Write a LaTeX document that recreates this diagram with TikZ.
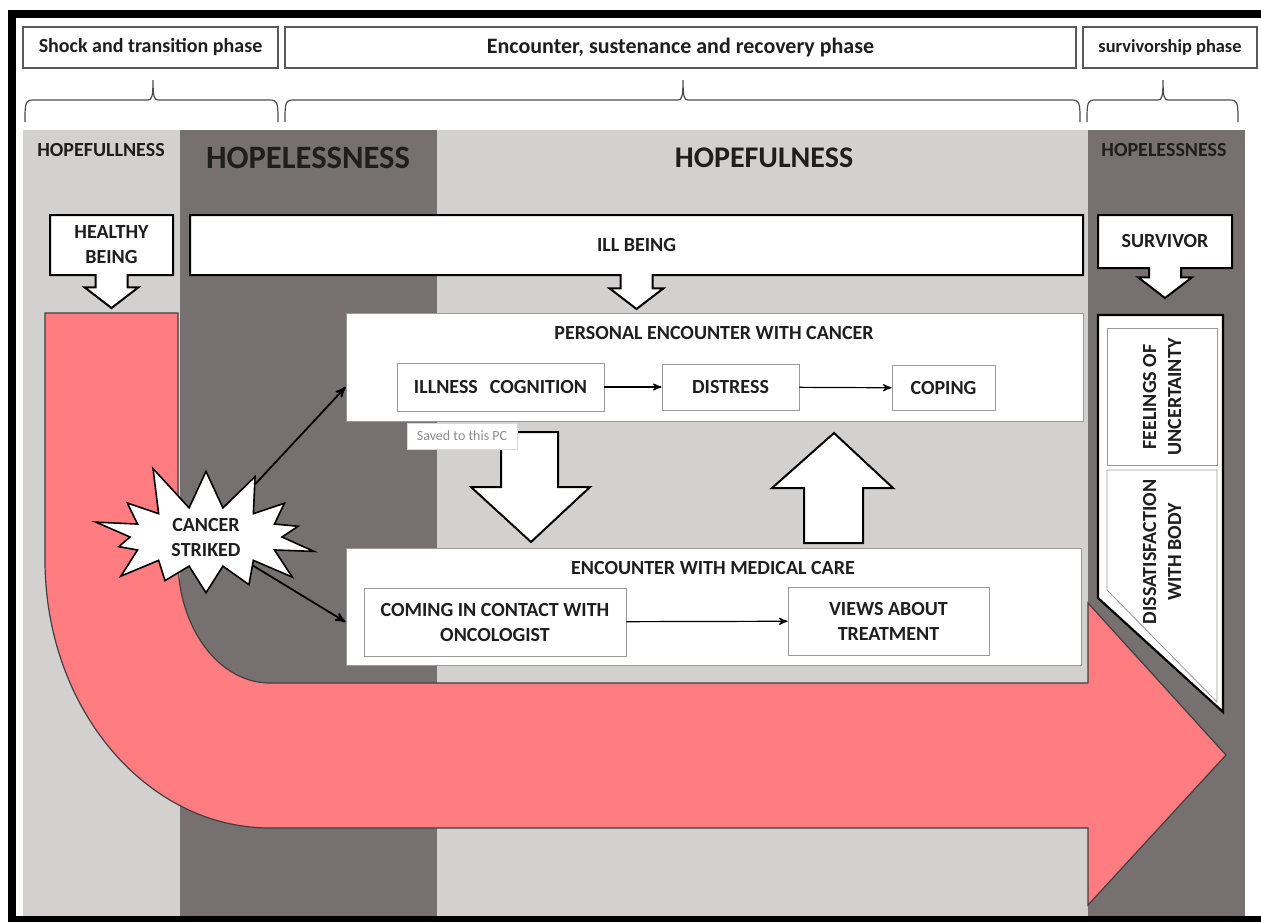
\documentclass[tikz,border=0pt]{standalone}
\usepackage{fontspec}
\setmainfont{Carlito}
\usepackage{tikz}
\usetikzlibrary{positioning,shapes,arrows}
\definecolor{lightband}{HTML}{D3D0D0}
\definecolor{darkband}{HTML}{767170}
\definecolor{strike}{HTML}{FF7C80}
\definecolor{ink}{HTML}{1E1E1E}
\tikzset{
  basic/.style    = {font=\bfseries\fontsize{10}{12.5}\selectfont, text=ink, align=center, inner sep=1pt},
  phase/.style    = {basic, draw=black!65, line width=0.7pt, fill=white, minimum height=20.5pt},
  band/.style     = {basic, font=\bfseries\fontsize{10}{12}\selectfont},
  band big/.style = {basic, font=\bfseries\fontsize{16.3}{19}\selectfont},
  being/.style    = {basic, shape=arrow box, draw=black, line width=1pt, fill=white,
                     arrow box shaft width=16pt, arrow box head extend=5.5pt,
                     arrow box tip angle=105},
  stage/.style    = {basic, draw=black!40, thin, fill=white},
  stepbox/.style  = {basic, draw=black!40, thin, fill=white},
  burst/.style    = {basic, shape=starburst, draw=black, line width=0.8pt, fill=white,
                     starburst points=14, starburst point height=24pt,
                     random starburst=11, minimum width=124pt, minimum height=76pt},
  tipbox/.style   = {draw=black!15, fill=white, text=black!45, inner sep=1pt,
                     font=\fontsize{7}{8}\selectfont, minimum width=55pt, minimum height=13pt},
  edge/.style     = {->, >=stealth', line width=0.6pt, black},
  strike edge/.style = {edge, line width=0.9pt},
  brace line/.style  = {draw=black!70, line width=0.6pt},
  hollow/.style   = {draw=black, line width=1pt, fill=white}
}
% curly brace under a phase box: left end, right end, tip
\newcommand{\phasebrace}[3]{%
  \draw[brace line] (#1,122) .. controls (#1,104) and (#1,100) .. (#1+8,100)
    -- (#3-5,100) .. controls (#3-1,100) and (#3,96) .. (#3,80)
    .. controls (#3,96) and (#3+1,100) .. (#3+5,100)
    -- (#2-8,100) .. controls (#2,100) and (#2,104) .. (#2,122);}

\begin{document}
\begin{tikzpicture}[x=0.5pt,y=-0.5pt]
\useasboundingbox (0,0) rectangle (1261,922);
% background bands
\fill[lightband] (23,130) rectangle (180,916);
\fill[darkband] (180,130) rectangle (437,916);
\fill[lightband] (437,130) rectangle (1088,916);
\fill[darkband] (1088,130) rectangle (1245,916);
% frame
\draw[line width=4pt] (8,14) -- (1261,14);
\draw[line width=4pt] (12,10) -- (12,921);
\draw[line width=3pt] (8,919) -- (1261,919);

% phases
\node[phase, minimum width=127.5pt] (shock) at (150.5,47.5) {Shock and transition phase};
\node[phase, minimum width=395.5pt, font=\bfseries\fontsize{11}{13}\selectfont] (encounter) at (680.5,47.5) {Encounter, sustenance and recovery phase};
\node[phase, minimum width=87pt, font=\bfseries\fontsize{9.2}{11}\selectfont] (surv) at (1170,47.5) {survivorship phase};
\phasebrace{25}{278}{153}
\phasebrace{285}{1080}{683}
\phasebrace{1087}{1238}{1163}

% band labels
\node[band] (hope1) at (101,150) {HOPEFULLNESS};
\node[band big] (hopeless1) at (308,158) {HOPELESSNESS};
\node[band big, font=\bfseries\fontsize{15}{18}\selectfont] (hope2) at (764,158) {HOPEFULNESS};
\node[band] (hopeless2) at (1164,150) {HOPELESSNESS};

% the bent arrow
\filldraw[fill=strike, draw=black!75, line width=0.6pt]
  (45,313) -- (178,313) -- (178,560) .. controls (178,628) and (219,683) .. (270,683)
  -- (1088,683) -- (1088,603) -- (1226,755) -- (1088,905) -- (1088,828) -- (270,828)
  .. controls (146,828) and (45,708) .. (45,560) -- cycle;

% beings
\node[being, minimum width=61.5pt, minimum height=30pt, arrow box arrows={south:16pt}] (healthy) at (111.5,245) {HEALTHY\\BEING};
\node[being, minimum width=446.5pt, minimum height=30pt, arrow box arrows={south:16.5pt}] (ill) at (636.5,245) {ILL BEING};
\node[being, minimum width=67pt, minimum height=26.5pt, arrow box arrows={south:14.5pt}] (survivor) at (1165,241.5) {SURVIVOR};

% personal encounter
\node[stage, minimum width=368.5pt, minimum height=54pt] (pers) at (714.5,367) {};
\node[basic] (perstitle) at (714,333) {PERSONAL ENCOUNTER WITH CANCER};
\node[stepbox, minimum width=103.5pt, minimum height=24pt] (cog) at (500.5,387) {ILLNESS\hspace{0.6em}COGNITION};
\node[stepbox, minimum width=68.5pt, minimum height=23pt] (dis) at (730.5,387) {DISTRESS};
\node[stepbox, minimum width=51.5pt, minimum height=22.5pt] (cop) at (943.5,388) {COPING};
\draw[edge] (cog) -- (dis);
\draw[edge] (dis) -- (cop);

% medical care
\node[stage, minimum width=367.5pt, minimum height=58.5pt] (med) at (713.5,606.5) {};
\node[basic] (medtitle) at (713,568) {ENCOUNTER WITH MEDICAL CARE};
\node[stepbox, minimum width=131pt, minimum height=34pt] (onc) at (495,622) {COMING IN CONTACT WITH\\ONCOLOGIST};
\node[stepbox, minimum width=100.5pt, minimum height=34pt] (views) at (888.5,621) {VIEWS ABOUT\\TREATMENT};
\draw[edge] (onc) -- (views);

% big hollow arrows
\draw[hollow] (501,432) -- (558,432) -- (558,487) -- (590,487) -- (531,542) -- (471,487) -- (501,487) -- cycle;
\draw[hollow] (804,543) -- (863,543) -- (863,488) -- (893,488) -- (834,433) -- (772,488) -- (804,488) -- cycle;
\node[tipbox] (saved) at (462,436) {Saved to this PC};

% cancer striked
\node[burst] (burst) at (206,537) {CANCER\\STRIKED};
\draw[strike edge] (burst) -- (pers.west |- cog);
\draw[strike edge] (burst) -- (med.west |- onc);

% survivorship feelings
\filldraw[fill=white, draw=black, line width=1.1pt] (1098,315) -- (1223,315) -- (1223,712) -- (1098,598) -- cycle;
\node[stepbox, rotate=90, minimum width=68.5pt, minimum height=55pt] (feel) at (1162,397) {FEELINGS OF\\UNCERTAINTY};
\draw[draw=black!40, thin, fill=white] (1107,470) -- (1217,470) -- (1217,702) -- (1107,590) -- cycle;
\node[basic, rotate=90] (diss) at (1162,552) {DISSATISFACTION\\WITH BODY};
\end{tikzpicture}
\end{document}
